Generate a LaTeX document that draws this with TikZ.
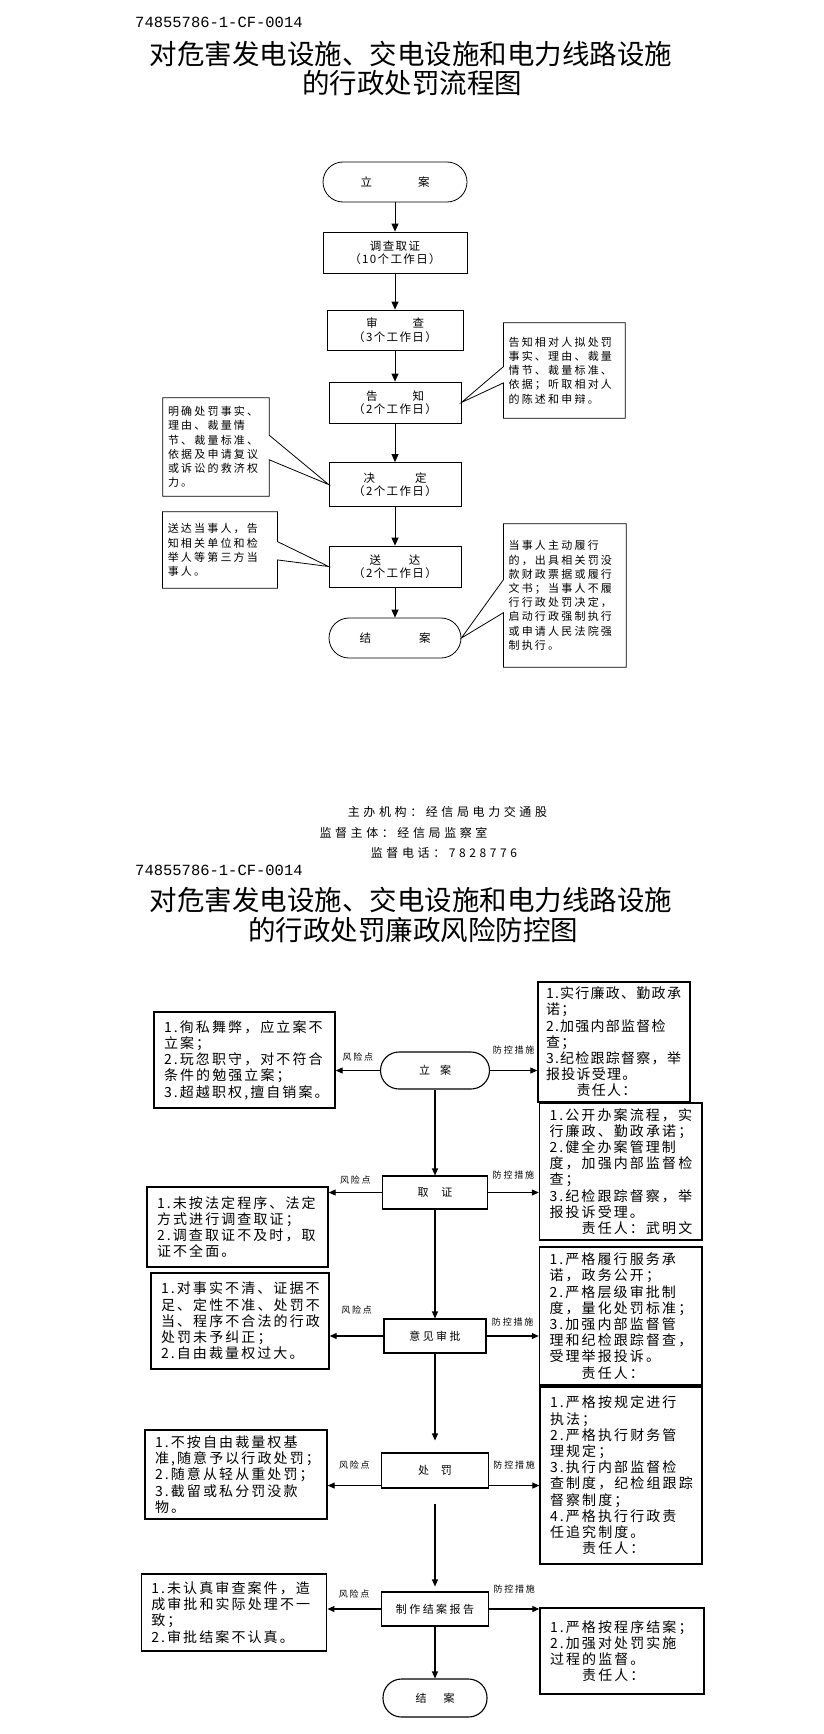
\documentclass[tikz,border=0pt]{standalone}
\usepackage{fontspec}
\setmainfont{Noto Sans CJK SC}
\newfontfamily\idfont{Liberation Mono}
\usetikzlibrary{positioning, arrows.meta, calc}
\newcommand{\fTitle}{\fontsize{27.5}{31}\selectfont}
\newcommand{\fCode}{\idfont\fontsize{15.5}{17}\selectfont}
\newcommand{\fBox}{\fontsize{11.5}{13.5}\selectfont\addfontfeatures{LetterSpace=12}}
\newcommand{\fNote}{\fontsize{11}{14.2}\selectfont\addfontfeatures{LetterSpace=20}}
\newcommand{\fInfo}{\fontsize{12}{14}\selectfont\addfontfeatures{LetterSpace=30}}
\newcommand{\fStep}{\fontsize{11}{13}\selectfont\addfontfeatures{LetterSpace=22}}
\newcommand{\fTag}{\fontsize{9}{10}\selectfont\addfontfeatures{LetterSpace=20}}
\newcommand{\fRisk}{\fontsize{14}{16.2}\selectfont\addfontfeatures{LetterSpace=15}}
\newcommand{\fRiskTight}{\fontsize{14}{16.2}\selectfont\addfontfeatures{LetterSpace=9}}

\begin{document}
\begin{tikzpicture}[x=1pt, y=-1pt,
    flow/.style={draw, line width=0.8pt, align=center, font=\fBox, inner sep=1pt},
    flowend/.style={flow, rounded corners=20pt},
    note/.style={align=left, font=\fNote, inner sep=5pt},
    stepbox/.style={draw, line width=1.1pt, align=center, font=\fStep, inner sep=1pt},
    stepend/.style={stepbox, rounded corners=18.5pt},
    riskbox/.style={draw, line width=1.4pt, align=left, font=\fRisk, inner xsep=10pt, inner ysep=2pt},
    tag/.style={font=\fTag, inner sep=1pt},
    arr/.style={-{Triangle[length=8pt, width=7pt]}, line width=0.8pt},
    arrlow/.style={-{Triangle[length=7pt, width=6pt]}, line width=1.1pt},
  ]
  \useasboundingbox (0,0) rectangle (823,1734);

  % process chart
  \node[anchor=west, font=\fCode, inner sep=0pt] (code1) at (135,22.5) {74855786-1-CF-0014};
  \node[font=\fTitle] (title1) at (411,53.5) {对危害发电设施、交电设施和电力线路设施};
  \node[font=\fTitle] (title2) at (412,83.5) {的行政处罚流程图};

  \node[flowend, minimum width=144pt, minimum height=40pt] (lian1)   at (395,182)   {立\hspace{46pt}案};
  \node[flow, minimum width=144pt, minimum height=41pt]    (diaocha) at (395,252.5) {调查取证\\（10个工作日）};
  \node[flow, minimum width=136pt, minimum height=40pt]    (shencha) at (395,330)   {审\hspace{35pt}查\\（3个工作日）};
  \node[flow, minimum width=132pt, minimum height=41pt]    (gaozhi)  at (395,402.5) {告\hspace{35pt}知\\（2个工作日）};
  \node[flow, minimum width=132pt, minimum height=44pt]    (jueding) at (395,484.5) {决\hspace{40pt}定\\（2个工作日）};
  \node[flow, minimum width=132pt, minimum height=41pt]    (songda)  at (395,566.5) {送\hspace{28pt}达\\（2个工作日）};
  \node[flowend, minimum width=132pt, minimum height=40pt] (jiean1)  at (395,638)   {结\hspace{48pt}案};

  \draw[arr] (lian1) -- (diaocha);
  \draw[arr] (diaocha) -- (shencha);
  \draw[arr] (shencha) -- (gaozhi);
  \draw[arr] (gaozhi) -- (jueding);
  \draw[arr] (jueding) -- (songda);
  \draw[arr] (songda) -- (jiean1);

  \node[note, text width=111.4pt, minimum height=95pt] (note1) at (564.3,370.5)
    {告知相对人拟处罚\\事实、理由、裁量\\情节、裁量标准、\\依据；听取相对人\\的陈述和申辩。};
  \node[note, text width=96pt, minimum height=98pt] (note2) at (216,447)
    {明确处罚事实、\\理由、裁量情\\节、裁量标准、\\依据及申请复议\\或诉讼的救济权\\力。};
  \node[note, text width=104.5pt, minimum height=76pt] (note3) at (220,550)
    {送达当事人，告\\知相关单位和检\\举人等第三方当\\事人。};
  \node[note, text width=112.4pt, minimum height=143pt] (note4) at (564.8,595.5)
    {当事人主动履行\\的，出具相关罚没\\款财政票据或履行\\文书；当事人不履\\行行政处罚决定，\\启动行政强制执行\\或申请人民法院强\\制执行。};

  \draw[line width=0.8pt] (note1.north west) -- (note1.north east) -- (note1.south east) -- (note1.south west)
    -- ($(note1.north west)!0.63!(note1.south west)$) -- (gaozhi.east)
    -- ($(note1.north west)!0.46!(note1.south west)$) -- cycle;
  \draw[line width=0.8pt] (note2.north west) -- (note2.north east)
    -- ($(note2.north east)!0.38!(note2.south east)$) -- (jueding.west)
    -- ($(note2.north east)!0.63!(note2.south east)$) -- (note2.south east) -- (note2.south west) -- cycle;
  \draw[line width=0.8pt] (note3.north west) -- (note3.north east)
    -- ($(note3.north east)!0.39!(note3.south east)$) -- (songda.west)
    -- ($(note3.north east)!0.63!(note3.south east)$) -- (note3.south east) -- (note3.south west) -- cycle;
  \draw[line width=0.8pt] (note4.north west) -- (note4.north east) -- (note4.south east) -- (note4.south west)
    -- ($(note4.north west)!0.62!(note4.south west)$) -- (jiean1.east)
    -- ($(note4.north west)!0.39!(note4.south west)$) -- cycle;

  \node[font=\fInfo] (host)   at (447.5,812) {主办机构：经信局电力交通股};
  \node[font=\fInfo] (superv) at (403.5,833) {监督主体：经信局监察室};
  \node[font=\fInfo] (phone)  at (444,853)   {监督电话：7828776};

  % risk control chart
  \node[anchor=west, font=\fCode, inner sep=0pt] (code2) at (135,870) {74855786-1-CF-0014};
  \node[font=\fTitle] (title3) at (411,900) {对危害发电设施、交电设施和电力线路设施};
  \node[font=\fTitle] (title4) at (413,930) {的行政处罚廉政风险防控图};

  \node[stepend, minimum width=109pt, minimum height=37pt] (lian2)  at (435,1070.5) {立\hspace{10pt}案};
  \node[stepbox, minimum width=105pt, minimum height=33pt] (quzh)   at (435,1192.5) {取\hspace{13pt}证};
  \node[stepbox, minimum width=102pt, minimum height=34pt] (yijian) at (435,1336)   {意见审批};
  \node[stepbox, minimum width=107pt, minimum height=35pt] (chufa)  at (435,1470.5) {处\hspace{12pt}罚};
  \node[stepbox, minimum width=107.5pt, minimum height=34pt] (baogao) at (435,1609) {制作结案报告};
  \node[stepend, minimum width=104pt, minimum height=38pt] (jiean2) at (435,1698)   {结\hspace{17pt}案};

  \node[riskbox, text width=161pt, minimum height=96pt] (risk1) at (244.5,1060)
    {1.徇私舞弊，应立案不\\立案；\\2.玩忽职守，对不符合\\条件的勉强立案；\\3.超越职权,擅自销案。};
  \node[riskbox, text width=161pt, minimum height=80pt] (risk2) at (237.5,1227)
    {1.未按法定程序、法定\\方式进行调查取证；\\2.调查取证不及时，取\\证不全面。};
  \node[riskbox, text width=158pt, minimum height=96pt] (risk3) at (240,1321)
    {1.对事实不清、证据不\\足、定性不准、处罚不\\当、程序不合法的行政\\处罚未予纠正；\\2.自由裁量权过大。};
  \node[riskbox, text width=162pt, minimum height=89pt] (risk4) at (236,1474.5)
    {1.不按自由裁量权基\\准,随意予以行政处罚；\\2.随意从轻从重处罚；\\3.截留或私分罚没款\\物。};
  \node[riskbox, text width=165.5pt, minimum height=77pt] (risk5) at (234,1612.5)
    {1.未认真审查案件，造\\成审批和实际处理不一\\致；\\2.审批结案不认真。};

  \node[riskbox, font=\fRiskTight, inner xsep=8pt, text width=136pt, minimum height=120pt] (ctrl1) at (614,1042)
    {1.实行廉政、勤政承\\诺；\\2.加强内部监督检\\查；\\3.纪检跟踪督察，举\\报投诉受理。\\　　责任人：};
  \node[riskbox, text width=142.5pt, minimum height=137pt] (ctrl2) at (620.75,1171.5)
    {1.公开办案流程，实\\行廉政、勤政承诺；\\2.健全办案管理制\\度，加强内部监督检\\查；\\3.纪检跟踪督察，举\\报投诉受理。\\　　责任人：武明文};
  \node[riskbox, text width=142.5pt, minimum height=138pt] (ctrl3) at (620.75,1316)
    {1.严格履行服务承\\诺，政务公开；\\2.严格层级审批制\\度，量化处罚标准；\\3.加强内部监督管\\理和纪检跟踪督查，\\受理举报投诉。\\　　责任人：};
  \node[riskbox, text width=142pt, minimum height=177pt] (ctrl4) at (621,1475.5)
    {1.严格按规定进行\\执法；\\2.严格执行财务管\\理规定；\\3.执行内部监督检\\查制度，纪检组跟踪\\督察制度；\\4.严格执行行政责\\任追究制度。\\　　责任人：};
  \node[riskbox, text width=144pt, minimum height=86pt] (ctrl5) at (622,1651)
    {1.严格按程序结案；\\2.加强对处罚实施\\过程的监督。\\　　责任人：};

  \draw[arrlow] (lian2) -- (quzh);
  \draw[arrlow] (quzh) -- (yijian);
  \draw[arrlow, shorten >=12pt] (yijian) -- (chufa);
  \draw[arrlow, shorten <=15pt, shorten >=5pt] (chufa) -- (baogao);
  \draw[arrlow] (baogao) -- (jiean2);

  \coordinate (chufaL) at ($(chufa.south west)+(0,-3)$);
  \coordinate (chufaR) at ($(chufa.south east)+(0,-3)$);

  \draw[arrlow] (lian2.west) -- (lian2.west -| risk1.east) node[tag, midway, above=8pt] {风险点};
  \draw[arrlow] (lian2.east) -- (lian2.east -| ctrl1.west) node[tag, midway, above=15pt] {防控措施};
  \draw[arrlow] (quzh.west) -- (quzh.west -| risk2.east) node[tag, midway, above=7pt] {风险点};
  \draw[arrlow] (quzh.east) -- (quzh.east -| ctrl2.west) node[tag, midway, above=12pt] {防控措施};
  \draw[arrlow] (yijian.west) -- (yijian.west -| risk3.east) node[tag, midway, above=20pt] {风险点};
  \draw[arrlow] (yijian.east) -- (yijian.east -| ctrl3.west) node[tag, midway, above=8pt] {防控措施};
  \draw[arrlow] (chufaL) -- (chufaL -| risk4.east) node[tag, midway, above=15pt] {风险点};
  \draw[arrlow] (chufaR) -- (chufaR -| ctrl4.west) node[tag, midway, above=15pt] {防控措施};
  \draw[arrlow] (baogao.west) -- (baogao.west -| risk5.east) node[tag, midway, above=9pt] {风险点};
  \draw[arrlow] (baogao.east) -- (baogao.east -| ctrl5.west) node[tag, midway, above=14pt] {防控措施};
\end{tikzpicture}
\end{document}
